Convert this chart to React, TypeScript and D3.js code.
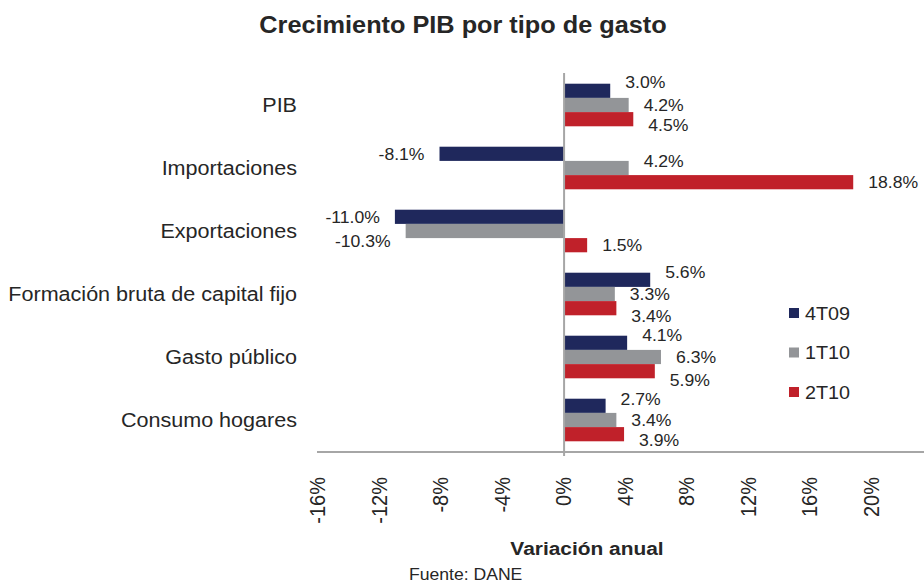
import React from "react";
import * as d3 from "d3";

const categories = [
  "PIB",
  "Importaciones",
  "Exportaciones",
  "Formación bruta de capital fijo",
  "Gasto público",
  "Consumo hogares",
];
const seriesNames = ["4T09", "1T10", "2T10"];
const values4T09 = [3.0, -8.1, -11.0, 5.6, 4.1, 2.7];
const values1T10 = [4.2, 4.2, -10.3, 3.3, 6.3, 3.4];
const values2T10 = [4.5, 18.8, 1.5, 3.4, 5.9, 3.9];
const tickValues = [-16, -12, -8, -4, 0, 4, 8, 12, 16, 20];

// vertical nudges of the data labels (as placed in the original)
const labelNudge4T09 = [-9, 0, 0, -8, -8, -7];
const labelNudge1T10 = [0, -7, 10, 0, 0, 0];
const labelNudge2T10 = [6, 0, 0, 8, 9, 6];

const colors = ["#1f285c", "#939598", "#c0212a"];
const textColor = "#262626";
const FONT = "'Liberation Sans', Arial, sans-serif";
const SX = 1.1;

const W = 924;
const H = 584;

type TProps = {
  x: number;
  y: number;
  size: number;
  anchor?: "start" | "middle" | "end";
  weight?: string | number;
  rot?: number;
  children: React.ReactNode;
};
const T = ({ x, y, size, anchor = "start", weight = "normal", rot, children }: TProps) => (
  <text
    transform={`translate(${x},${y}) scale(${SX},1)${rot ? ` rotate(${rot})` : ""}`}
    textAnchor={anchor}
    fontSize={size}
    fontWeight={weight}
    fontFamily={FONT}
    fill={textColor}
  >
    {children}
  </text>
);

export default function App() {
  const x = d3.scaleLinear().domain([-16, 24]).range([318, 318 + 40 * 15.38]);
  const y = d3.scaleBand<string>().domain(categories).range([73.5, 451.5]).paddingInner(0.324).paddingOuter(0.162);
  const ySub = d3.scaleBand<string>().domain(seriesNames).range([0, y.bandwidth()]).padding(0);

  const series = [
    { name: seriesNames[0], values: values4T09, nudge: labelNudge4T09, color: colors[0] },
    { name: seriesNames[1], values: values1T10, nudge: labelNudge1T10, color: colors[1] },
    { name: seriesNames[2], values: values2T10, nudge: labelNudge2T10, color: colors[2] },
  ];

  const labelSize = 16;
  const axisY = 452;
  const legendY = d3.scalePoint<string>().domain(seriesNames).range([313, 392]);

  return (
    <svg
      width={W}
      height={H}
      style={{ position: "absolute", left: 0, top: 0, background: "#fff" }}
    >
      <rect x={0} y={0} width={W} height={H} fill="#fff" />
      <T x={463} y={33} size={23} weight="bold" anchor="middle">
        Crecimiento PIB por tipo de gasto
      </T>

      {/* bars */}
      {series.map((s) =>
        categories.map((c, i) => {
          const v = s.values[i];
          const y0 = (y(c) as number) + (ySub(s.name) as number);
          return (
            <rect
              key={s.name + c}
              x={Math.min(x(0), x(v))}
              y={y0}
              width={Math.abs(x(v) - x(0))}
              height={ySub.bandwidth()}
              fill={s.color}
            />
          );
        })
      )}

      {/* axes */}
      <line x1={x(-16) - 1} x2={W} y1={axisY} y2={axisY} stroke="#a6a6a6" strokeWidth={2} />
      <line x1={x(0)} x2={x(0)} y1={73} y2={axisY + 4} stroke="#a6a6a6" strokeWidth={2} />

      {/* data labels */}
      {series.map((s) =>
        categories.map((c, i) => {
          const v = s.values[i];
          const cy = (y(c) as number) + (ySub(s.name) as number) + ySub.bandwidth() / 2 + s.nudge[i];
          const pos = v >= 0;
          return (
            <T
              key={"l" + s.name + c}
              x={pos ? x(v) + 15 : x(v) - 15}
              y={cy + labelSize * 0.36}
              size={labelSize}
              anchor={pos ? "start" : "end"}
            >
              {v.toFixed(1) + "%"}
            </T>
          );
        })
      )}

      {/* category labels */}
      {categories.map((c) => (
        <T key={"c" + c} x={297} y={(y(c) as number) + y.bandwidth() / 2 + 7} size={19.6} anchor="end">
          {c}
        </T>
      ))}

      {/* tick labels */}
      {tickValues.map((t) => (
        <T key={"t" + t} x={x(t) + 7} y={477} size={20} anchor="end" rot={-90}>
          {t + "%"}
        </T>
      ))}

      <T x={587} y={555} size={19} weight="bold" anchor="middle">
        Variación anual
      </T>
      <T x={409} y={580} size={16}>
        Fuente: DANE
      </T>

      {/* legend */}
      {series.map((s) => (
        <g key={"lg" + s.name}>
          <rect x={789} y={(legendY(s.name) as number) - 5} width={10} height={10} fill={s.color} />
          <T x={805} y={(legendY(s.name) as number) + 6.5} size={18}>
            {s.name}
          </T>
        </g>
      ))}
    </svg>
  );
}
